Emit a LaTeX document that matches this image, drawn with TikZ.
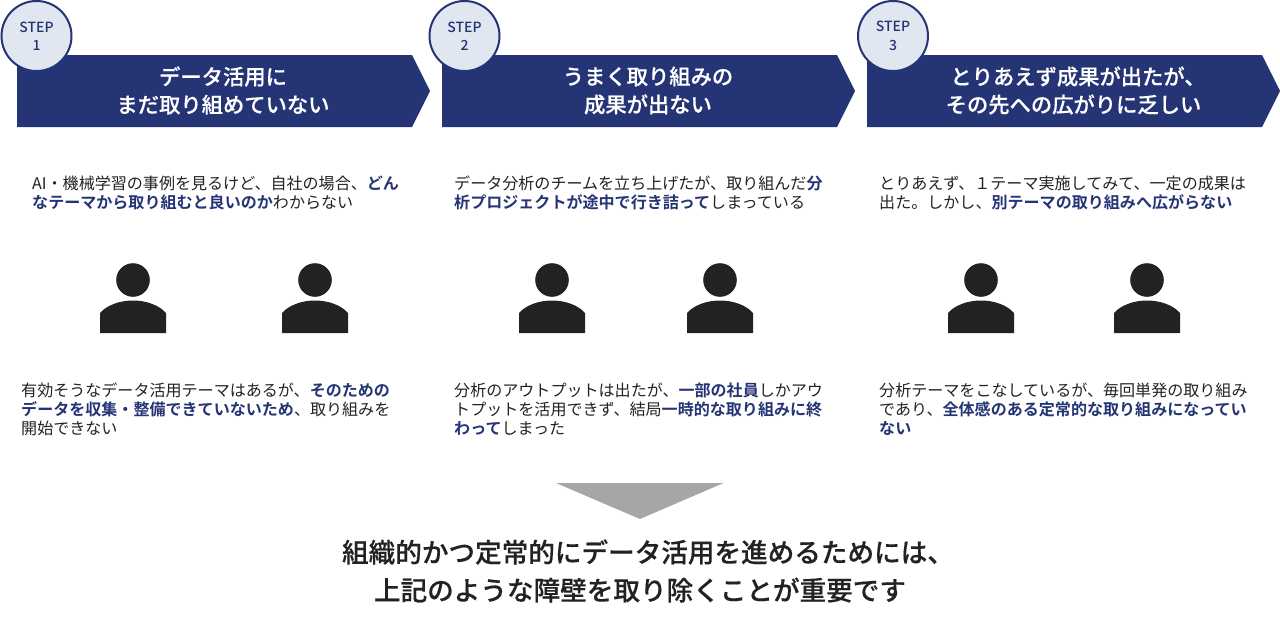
\documentclass[tikz,border=0pt]{standalone}
\usepackage{fontspec}
\setmainfont{Noto Sans CJK JP}[BoldFont={Noto Sans CJK JP Medium}]
\newfontfamily\strongfont{Noto Sans CJK JP Bold}
\newfontfamily\headfont{Noto Sans CJK JP Medium}[FakeBold=0.3]
\definecolor{navy}{HTML}{253474}
\definecolor{pale}{HTML}{E1E7F1}
\definecolor{ink}{HTML}{222222}
\definecolor{tri}{HTML}{A6A6A6}
\newcommand{\hl}[1]{\textcolor{navy}{\strongfont #1}}
\tikzset{
  banner/.style={fill=navy,draw=none},
  bannertext/.style={text=white,font=\fontsize{21.3}{28}\selectfont\headfont,align=center,anchor=center,inner sep=0pt},
  stepcircle/.style={circle,draw=navy,line width=2pt,fill=pale,minimum size=70pt,inner sep=0pt,text=navy,align=center,font=\fontsize{14}{18.5}\selectfont\bfseries},
  bodytext/.style={text=ink,font=\fontsize{16.05}{18.9}\selectfont,align=left,anchor=north west,inner sep=0pt},
  pers/.pic={
    \fill[ink] (0,-20) circle (16.8);
    \fill[ink] (-33,33) -- (-33,13) .. controls (-26,5) and (-13,0.5) .. (0,0.5) .. controls (13,0.5) and (26,5) .. (33,13) -- (33,33) -- cycle;
  }
}
\begin{document}
\begin{tikzpicture}[x=1pt,y=-1pt]
\useasboundingbox (0,0) rectangle (1280,629);
\foreach \x/\n in {17/a,442/b,867/c}{
  \fill[banner] (\x,55) -- ++(395,0) -- ++(18,36) -- ++(-18,36) -- ++(-395,0) -- cycle;
}
\node[stepcircle] (s1) at (36.5,36) {\raisebox{-3pt}{STEP}\\\raisebox{-3pt}{1}};
\node[stepcircle] (s2) at (464.5,36) {\raisebox{-3pt}{STEP}\\\raisebox{-3pt}{2}};
\node[stepcircle] (s3) at (893,36) {\raisebox{-3pt}{STEP}\\\raisebox{-3pt}{3}};
\node[bannertext] (t1) at (223,90.5) {データ活用に\\まだ取り組めていない};
\node[bannertext] (t2) at (648,90.5) {うまく取り組みの\\成果が出ない};
\node[bannertext] (t3) at (1073.5,90.5) {とりあえず成果が出たが、\hspace*{-9pt}\\その先への広がりに乏しい};
\node[bodytext] (a1) at (32,175.5) {AI・機械学習の事例を見るけど、自社の場合、\hl{どん}\\\hl{なテーマから取り組むと良いのか}わからない};
\node[bodytext] (a2) at (454,175.5) {データ分析のチームを立ち上げたが、取り組んだ\hl{分}\\\hl{析プロジェクトが途中で行き詰って}しまっている};
\node[bodytext] (a3) at (879,175.5) {とりあえず、１テーマ実施してみて、一定の成果は\\出た。しかし、\hl{別テーマの取り組みへ広がらない}};
\foreach \x in {133,315,552,720,981,1147}{
  \pic at (\x,300) {pers};
}
\node[bodytext] (b1) at (21,383) {有効そうなデータ活用テーマはあるが、\hl{そのための}\\\hl{データを収集・整備できていないため}、取り組みを\\開始できない};
\node[bodytext] (b2) at (454,383) {分析のアウトプットは出たが、\hl{一部の社員}しかアウ\\トプットを活用できず、結局\hl{一時的な取り組みに終}\\\hl{わって}しまった};
\node[bodytext] (b3) at (879,383) {分析テーマをこなしているが、毎回単発の取り組み\\であり、\hl{全体感のある定常的な取り組みになってい}\\\hl{ない}};
\fill[tri] (556,483) -- (723.5,483) -- (640,519) -- cycle;
\node[text=ink,font=\fontsize{26.6}{38}\selectfont\headfont,align=center,inner sep=0pt] (concl) at (640,571) {組織的かつ定常的にデータ活用を進めるためには、\hspace*{-16pt}\\上記のような障壁を取り除くことが重要です};
\end{tikzpicture}
\end{document}
